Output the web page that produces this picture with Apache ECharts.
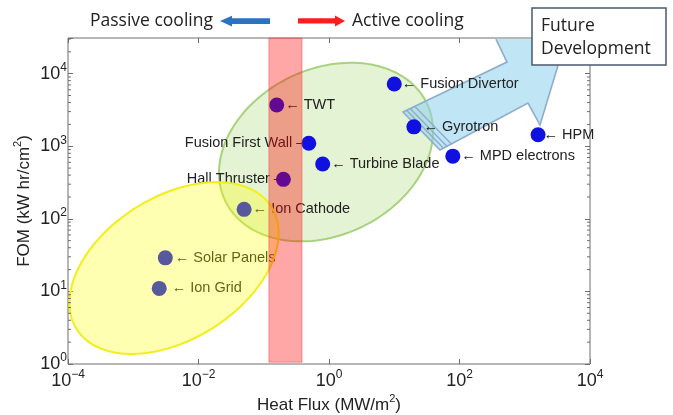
<!DOCTYPE html>
<html><head><meta charset="utf-8">
<script src="https://cdn.jsdelivr.net/npm/echarts@6/dist/echarts.min.js"></script>
<style>html,body{margin:0;padding:0;background:#fff}#c{width:673px;height:415px}</style>
</head><body><div id="c"></div>
<script>
// ---------------- data ----------------
const names    = ['Fusion Divertor','TWT','Fusion First Wall','Turbine Blade','Hall Thruster','Ion Cathode','Solar Panels','Ion Grid','Gyrotron','MPD electrons','HPM'];
const heatFlux = [10, 0.158, 0.49, 0.8, 0.2, 0.05, 0.0031, 0.0025, 20, 79, 1600];   // MW/m^2
const fom      = [7200, 3700, 1100, 570, 350, 135, 29, 11, 1850, 730, 1440];        // kW hr/cm^2
const xTickExponents = [-4, -2, 0, 2, 4];
const yTickExponents = [0, 1, 2, 3, 4];
const activeBandFlux = [0.12, 0.385];
const activeBandFom  = [1.06, 31000];

// ---------------- layout / style ----------------
const X_MIN = 1e-4, X_MAX = 1e4, Y_MIN = 1, Y_MAX = 31000;
const AXIS_COLOR = '#6e6e6e';
const TXT = '#222';
const FONT = '"Liberation Sans", Arial, sans-serif';
const labelPlacement = {
  'Fusion Divertor':   {side: 'right', gap: 0},
  'TWT':               {side: 'right', gap: 1},
  'Fusion First Wall': {side: 'left',  gap: -3},
  'Turbine Blade':     {side: 'right', gap: 1},
  'Hall Thruster':     {side: 'left',  gap: -6},
  'Ion Cathode':       {side: 'right', gap: 1},
  'Solar Panels':      {side: 'right', gap: 2},
  'Ion Grid':          {side: 'right', gap: 5},
  'Gyrotron':          {side: 'right', gap: 2},
  'MPD electrons':     {side: 'right', gap: 1},
  'HPM':               {side: 'right', gap: -2}
};
// annotation shapes (data-space anchors, pixel extents)
const yellowEllipse = {center: [0.00422, 21.0], rx: 115, ry: 71.4, angle: 32};
const greenEllipse  = {center: [0.90, 832], rx: 112, ry: 83, angle: 26};
// arrow outline in log10 coordinates [log x, log y]
const arrowLog = [[1.134, 3.471], [2.728, 4.160], [2.559, 4.477], [3.632, 4.477], [3.234, 3.292], [3.050, 3.595], [1.701, 2.948]];

const minorTickValues = [];
yTickExponents.forEach(function (e) { for (let m = 2; m <= 9; m++) { const v = m * Math.pow(10, e); if (v < Y_MAX) minorTickValues.push(v); } });

function supLabel(e) { return '{b|10}{s|' + (e < 0 ? '\u2212' + (-e) : e) + '}'; }
const tickRich = {
  b: {fontSize: 18, fontFamily: FONT, color: TXT, lineHeight: 24},
  s: {fontSize: 12, fontFamily: FONT, color: TXT, verticalAlign: 'top', lineHeight: 14}
};
const nameRich = {s: {fontSize: 11, fontFamily: FONT, color: TXT, verticalAlign: 'top', lineHeight: 13}};

const scatterData = names.map(function (n, i) {
  const p = labelPlacement[n];
  return {
    name: n, value: [heatFlux[i], fom[i]],
    label: {
      show: true,
      position: p.side,
      distance: p.gap,
      formatter: p.side === 'right' ? '\u2190 ' + n : n + ' \u2013'
    }
  };
});

function ellipseRender(e) {
  return function (params, api) {
    const c = api.coord(e.center);
    const th = e.angle * Math.PI / 180;
    const pts = [];
    for (let i = 0; i < 144; i++) {
      const t = i / 144 * 2 * Math.PI;
      const u = e.rx * Math.cos(t), v = e.ry * Math.sin(t);
      pts.push([c[0] + u * Math.cos(th) + v * Math.sin(th), c[1] - u * Math.sin(th) + v * Math.cos(th)]);
    }
    return {type: 'polygon', shape: {points: pts}, style: api.style()};
  };
}

const chart = echarts.init(document.getElementById('c'), null, {renderer: 'canvas'});
const option = {
  animation: false,
  backgroundColor: '#fff',
  grid: {left: 68, right: 83, top: 38, bottom: 51, outerBoundsMode: 'none', containLabel: false,
    show: true, borderColor: AXIS_COLOR, borderWidth: 1, backgroundColor: 'transparent'},
  xAxis: [
    {
      type: 'log', logBase: 10, min: X_MIN, max: X_MAX, position: 'bottom',
      axisLine: {show: false, onZero: false}, axisTick: {show: false}, splitLine: {show: false},
      axisLabel: {
        margin: 5,
        formatter: function (v) {
          const l = Math.log10(v), e = Math.round(l);
          if (Math.abs(l - e) > 1e-6 || xTickExponents.indexOf(e) < 0) return '';
          return supLabel(e);
        },
        rich: tickRich
      },
      name: 'Heat Flux (MW/m{s|2})', nameLocation: 'middle', nameGap: 29, nameMoveOverlap: false,
      nameTextStyle: {fontSize: 17, fontFamily: FONT, color: TXT, lineHeight: 24, rich: nameRich}
    },
    {
      type: 'value', min: -4, max: 4, interval: 2, position: 'bottom',
      axisLine: {show: false, onZero: false}, axisLabel: {show: false}, splitLine: {show: false},
      axisTick: {show: true, inside: true, length: 5, lineStyle: {color: AXIS_COLOR}}
    },
    {
      type: 'value', min: -4, max: 4, interval: 2, position: 'top',
      axisLine: {show: false, onZero: false}, axisLabel: {show: false}, splitLine: {show: false},
      axisTick: {show: true, inside: true, length: 5, lineStyle: {color: AXIS_COLOR}}
    }
  ],
  yAxis: [
    {
      type: 'log', logBase: 10, min: Y_MIN, max: Y_MAX, position: 'left',
      axisLine: {show: false, onZero: false}, splitLine: {show: false},
      axisTick: {show: true, inside: true, length: 5, lineStyle: {color: AXIS_COLOR}},
      axisLabel: {
        margin: 1,
        formatter: function (v) {
          const l = Math.log10(v), e = Math.round(l);
          if (Math.abs(l - e) > 1e-6 || yTickExponents.indexOf(e) < 0) return '';
          return supLabel(e);
        },
        rich: tickRich
      },
      name: 'FOM (kW hr/cm{s|2})', nameLocation: 'middle', nameGap: 32, nameMoveOverlap: false,
      nameTextStyle: {fontSize: 17, fontFamily: FONT, color: TXT, lineHeight: 24, rich: nameRich}
    },
    {
      type: 'log', logBase: 10, min: Y_MIN, max: Y_MAX, position: 'right',
      axisLine: {show: false, onZero: false}, splitLine: {show: false}, axisLabel: {show: false},
      axisTick: {show: true, inside: true, length: 5, lineStyle: {color: AXIS_COLOR}}
    }
  ],
  series: [
    { // green region
      type: 'custom', z: 1, xAxisIndex: 0, yAxisIndex: 0, silent: true,
      data: [greenEllipse.center],
      itemStyle: {color: 'rgba(146,208,80,0.25)', borderColor: '#a9d27e', borderWidth: 2},
      renderItem: ellipseRender(greenEllipse)
    },
    { // future development arrow
      type: 'custom', z: 2, xAxisIndex: 0, yAxisIndex: 0, silent: true, clip: true,
      data: [[1, 1]],
      renderItem: function (params, api) {
        const P = arrowLog.map(function (p) { return api.coord([Math.pow(10, p[0]), Math.pow(10, p[1])]); });
        const stroke = '#8eaccb';
        const S1 = P[0], S2 = P[6], I1 = P[1], I2 = P[5];
        const mx0 = (S1[0] + S2[0]) / 2, my0 = (S1[1] + S2[1]) / 2;
        const mx1 = (I1[0] + I2[0]) / 2, my1 = (I1[1] + I2[1]) / 2;
        const L = Math.hypot(mx1 - mx0, my1 - my0), ux = (mx1 - mx0) / L, uy = (my1 - my0) / L;
        const kids = [
          {type: 'polygon', shape: {points: P}, style: {fill: 'rgba(140,208,236,0.55)', stroke: null}},
          {type: 'polyline', shape: {points: [P[2], P[1], P[0], P[6], P[5], P[4], P[3]]}, style: {fill: null, stroke: stroke, lineWidth: 1.6}}
        ];
        [4, 8, 13].forEach(function (d) {
          kids.push({type: 'line', shape: {x1: S1[0] + ux * d, y1: S1[1] + uy * d, x2: S2[0] + ux * d, y2: S2[1] + uy * d},
            style: {stroke: stroke, lineWidth: 1.4}});
        });
        return {type: 'group', children: kids};
      }
    },
    {
      type: 'scatter', z: 3, xAxisIndex: 0, yAxisIndex: 0,
      symbol: 'circle', symbolSize: 15,
      itemStyle: {color: '#1010e0', opacity: 1},
      label: {color: TXT, fontSize: 14.5, fontFamily: FONT},
      data: scatterData
    },
    { // yellow region
      type: 'custom', z: 4, xAxisIndex: 0, yAxisIndex: 0, silent: true,
      data: [yellowEllipse.center],
      itemStyle: {color: 'rgba(255,255,0,0.3)', borderColor: '#f2ee1c', borderWidth: 2},
      renderItem: ellipseRender(yellowEllipse)
    },
    { // active cooling band
      type: 'custom', z: 5, xAxisIndex: 0, yAxisIndex: 0, silent: true,
      data: [[activeBandFlux[0], activeBandFom[0]]],
      renderItem: function (params, api) {
        const p0 = api.coord([activeBandFlux[0], activeBandFom[0]]);
        const p1 = api.coord([activeBandFlux[1], activeBandFom[1]]);
        return {type: 'rect', shape: {x: p0[0], y: p1[1], width: p1[0] - p0[0], height: p0[1] - p1[1]},
          style: {fill: 'rgba(255,0,0,0.35)', stroke: 'rgba(235,90,90,0.6)', lineWidth: 1}};
      }
    },
    { // log minor ticks, left and right
      type: 'custom', z: 6, xAxisIndex: 0, yAxisIndex: 0, silent: true,
      data: minorTickValues.map(function (v) { return [X_MIN, v]; }),
      renderItem: function (params, api) {
        const v = api.value(1);
        const l = api.coord([X_MIN, v]), r = api.coord([X_MAX, v]);
        const st = {stroke: AXIS_COLOR, lineWidth: 1};
        return {type: 'group', children: [
          {type: 'line', shape: {x1: l[0], y1: l[1], x2: l[0] + 3, y2: l[1]}, style: st},
          {type: 'line', shape: {x1: r[0] - 3, y1: r[1], x2: r[0], y2: r[1]}, style: st}
        ]};
      }
    }
  ],
  graphic: [
    {type: 'text', x: 90, y: 21, z: 100, style: {text: 'Passive cooling', fontSize: 17.5, fontFamily: '"Open Sans", sans-serif', fill: TXT, align: 'left', verticalAlign: 'middle'}},
    {type: 'polygon', z: 100, shape: {points: [[220, 21], [232, 15.8], [232, 18.2], [270, 18.2], [270, 24], [232, 24], [232, 26.4]]}, style: {fill: '#2a72c4'}},
    {type: 'polygon', z: 100, shape: {points: [[298, 18.3], [335, 18.3], [335, 15.6], [345, 21], [335, 26.4], [335, 23.6], [298, 23.6]]}, style: {fill: '#ff1c1c'}},
    {type: 'text', x: 352, y: 21, z: 100, style: {text: 'Active cooling', fontSize: 17.5, fontFamily: '"Open Sans", sans-serif', fill: TXT, align: 'left', verticalAlign: 'middle'}},
    {type: 'rect', z: 100, shape: {x: 532, y: 8, width: 134, height: 57}, style: {fill: '#fff', stroke: '#4a5a6c', lineWidth: 1.5}},
    {type: 'text', x: 541, y: 26, z: 101, style: {text: 'Future', fontSize: 17.5, fontFamily: '"Open Sans", sans-serif', fill: TXT, align: 'left', verticalAlign: 'middle'}},
    {type: 'text', x: 541, y: 49.5, z: 101, style: {text: 'Development', fontSize: 17.5, fontFamily: '"Open Sans", sans-serif', fill: TXT, align: 'left', verticalAlign: 'middle'}}
  ]
};
chart.setOption(option);
</script>
</body></html>
